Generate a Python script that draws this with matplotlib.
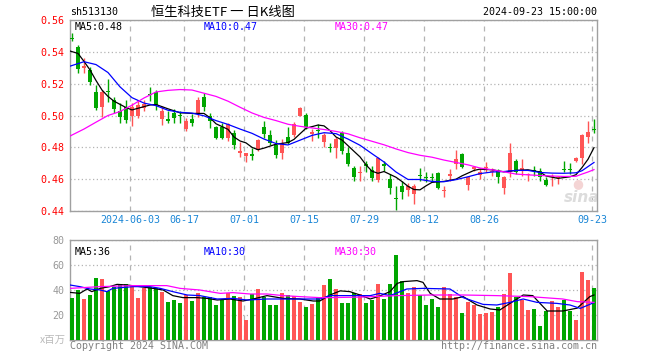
import numpy as np
import matplotlib
matplotlib.use('Agg')
import matplotlib.pyplot as plt

# ---------------------------------------------------------------------------
# data (88 sessions, 2024-05-20 .. 2024-09-23)
# ---------------------------------------------------------------------------
opens = [0.5485, 0.5430, 0.5300, 0.5286, 0.5150, 0.5052, 0.5155, 0.5100, 0.5030, 0.5055,
         0.4997, 0.4995, 0.5045, 0.5132, 0.5145, 0.4975, 0.4980, 0.5013, 0.5003, 0.4913,
         0.4975, 0.5017, 0.5117, 0.4996, 0.4925, 0.4925, 0.4861, 0.4892, 0.4765, 0.4745,
         0.4753, 0.4784, 0.4925, 0.4876, 0.4813, 0.4763, 0.4863, 0.4876, 0.5000, 0.5000,
         0.4882, 0.4910, 0.4834, 0.4801, 0.4795, 0.4892, 0.4767, 0.4673, 0.4638, 0.4695,
         0.4659, 0.4597, 0.4698, 0.4600, 0.4478, 0.4555, 0.4534, 0.4507, 0.4625, 0.4615,
         0.4612, 0.4638, 0.4525, 0.4617, 0.4698, 0.4756, 0.4563, 0.4667, 0.4627, 0.4669,
         0.4646, 0.4652, 0.4542, 0.4642, 0.4711, 0.4659, 0.4624, 0.4655, 0.4653, 0.4597,
         0.4611, 0.4609, 0.4659, 0.4661, 0.4715, 0.4736, 0.4867, 0.4912]
highs = [0.5520, 0.5443, 0.5363, 0.5307, 0.5192, 0.5160, 0.5227, 0.5114, 0.5077, 0.5100,
         0.5077, 0.5098, 0.5100, 0.5180, 0.5160, 0.5058, 0.5027, 0.5038, 0.5027, 0.4986,
         0.5007, 0.5117, 0.5142, 0.5017, 0.4934, 0.4955, 0.4955, 0.4909, 0.4836, 0.4765,
         0.4798, 0.4855, 0.4965, 0.4909, 0.4846, 0.4855, 0.4925, 0.4959, 0.5052, 0.5017,
         0.4913, 0.4944, 0.4892, 0.4830, 0.4867, 0.4902, 0.4804, 0.4684, 0.4680, 0.4715,
         0.4684, 0.4740, 0.4715, 0.4632, 0.4559, 0.4590, 0.4576, 0.4569, 0.4673, 0.4642,
         0.4640, 0.4646, 0.4555, 0.4663, 0.4783, 0.4763, 0.4621, 0.4684, 0.4673, 0.4708,
         0.4673, 0.4667, 0.4621, 0.4825, 0.4725, 0.4725, 0.4638, 0.4684, 0.4673, 0.4611,
         0.4632, 0.4621, 0.4715, 0.4700, 0.4742, 0.4881, 0.4965, 0.4979]
lows = [0.5470, 0.5265, 0.5265, 0.5192, 0.5035, 0.4993, 0.5087, 0.5014, 0.4951, 0.4950,
        0.4934, 0.4983, 0.5030, 0.5090, 0.5035, 0.4938, 0.4950, 0.4950, 0.4950, 0.4903,
        0.4934, 0.4992, 0.5027, 0.4923, 0.4850, 0.4850, 0.4840, 0.4792, 0.4742, 0.4705,
        0.4722, 0.4778, 0.4861, 0.4813, 0.4736, 0.4726, 0.4820, 0.4867, 0.4998, 0.4913,
        0.4840, 0.4861, 0.4799, 0.4772, 0.4736, 0.4757, 0.4680, 0.4590, 0.4590, 0.4642,
        0.4590, 0.4580, 0.4653, 0.4507, 0.4407, 0.4476, 0.4497, 0.4445, 0.4590, 0.4580,
        0.4580, 0.4538, 0.4486, 0.4590, 0.4663, 0.4673, 0.4532, 0.4652, 0.4600, 0.4642,
        0.4621, 0.4579, 0.4507, 0.4611, 0.4632, 0.4617, 0.4590, 0.4617, 0.4590, 0.4559,
        0.4555, 0.4570, 0.4642, 0.4632, 0.4705, 0.4694, 0.4829, 0.4892]
closes = [0.5480, 0.5290, 0.5310, 0.5213, 0.5045, 0.5150, 0.5148, 0.5040, 0.4990, 0.4972,
          0.5052, 0.5066, 0.5070, 0.5128, 0.5065, 0.5027, 0.4963, 0.4982, 0.4997, 0.4965,
          0.4950, 0.5096, 0.5054, 0.4965, 0.4861, 0.4858, 0.4944, 0.4815, 0.4775, 0.4762,
          0.4748, 0.4846, 0.4882, 0.4830, 0.4751, 0.4830, 0.4830, 0.4944, 0.5050, 0.4930,
          0.4896, 0.4905, 0.4876, 0.4797, 0.4855, 0.4778, 0.4694, 0.4611, 0.4646, 0.4685,
          0.4607, 0.4730, 0.4685, 0.4542, 0.4475, 0.4517, 0.4559, 0.4555, 0.4618, 0.4608,
          0.4608, 0.4544, 0.4529, 0.4632, 0.4725, 0.4679, 0.4611, 0.4673, 0.4646, 0.4677,
          0.4652, 0.4615, 0.4611, 0.4763, 0.4646, 0.4669, 0.4628, 0.4650, 0.4611, 0.4563,
          0.4621, 0.4613, 0.4655, 0.4657, 0.4730, 0.4875, 0.4896, 0.4908]
volume = [33.9, 40.0, 32.8, 36.0, 49.9, 48.8, 39.2, 42.7, 44.5, 44.5,
          44.0, 33.9, 41.3, 42.7, 41.9, 38.7, 30.7, 32.0, 29.9, 36.0,
          31.2, 37.3, 34.7, 34.7, 28.0, 32.0, 37.3, 35.5, 34.7, 16.0,
          36.5, 40.8, 34.7, 28.0, 28.0, 37.6, 36.0, 35.2, 30.7, 26.1,
          28.8, 34.7, 44.0, 48.8, 40.8, 29.6, 29.6, 37.3, 36.5, 29.6,
          32.0, 44.8, 32.8, 44.8, 68.0, 47.2, 37.6, 42.4, 36.3, 28.0,
          32.8, 26.4, 42.4, 36.5, 34.1, 21.6, 30.4, 28.0, 20.8, 21.6,
          22.4, 26.4, 36.8, 53.6, 34.7, 32.0, 24.0, 24.8, 11.5, 23.2,
          31.2, 26.4, 32.0, 23.2, 16.0, 54.4, 48.0, 41.9]

# moving-average lines (session index, value)
ma5_i = [-0.33, 1, 2, 3, 4, 5, 6, 7, 9, 10, 13, 14, 16, 18, 20, 22, 23, 24, 26, 27,
         28, 29, 30, 31, 32, 34, 36, 37, 38, 39, 41, 42, 43, 44, 45, 47, 48, 49, 50, 51,
         52, 54, 55, 56, 57, 58, 59, 60, 62, 64, 65, 66, 67, 68, 70, 72, 74, 76, 78, 79,
         81, 83, 84, 85, 86, 87]
ma5_v = [0.5405, 0.5390, 0.5340, 0.5286, 0.5220, 0.5160, 0.5120, 0.5090, 0.5050, 0.5035,
         0.5066, 0.5069, 0.5042, 0.5017, 0.5013, 0.5013, 0.4986, 0.4948, 0.4913, 0.4865,
         0.4840, 0.4828, 0.4800, 0.4785, 0.4795, 0.4820, 0.4830, 0.4850, 0.4885, 0.4920,
         0.4940, 0.4935, 0.4905, 0.4865, 0.4846, 0.4775, 0.4740, 0.4690, 0.4650, 0.4637,
         0.4648, 0.4612, 0.4585, 0.4555, 0.4535, 0.4533, 0.4558, 0.4580, 0.4586, 0.4600,
         0.4621, 0.4638, 0.4655, 0.4663, 0.4659, 0.4646, 0.4655, 0.4659, 0.4645, 0.4620,
         0.4605, 0.4615, 0.4628, 0.4673, 0.4725, 0.4798]
ma10_i = [-0.33, 2, 4, 6, 8, 10, 12, 14, 16, 18, 20, 22, 24, 26, 28, 30, 32, 34, 36, 38,
          40, 42, 44, 46, 48, 50, 52, 54, 56, 58, 60, 62, 64, 66, 68, 70, 72, 74, 76, 78,
          80, 82, 84, 85, 86, 87]
ma10_v = [0.5310, 0.5338, 0.5320, 0.5270, 0.5180, 0.5112, 0.5078, 0.5062, 0.5033, 0.5020,
          0.5015, 0.4998, 0.4968, 0.4944, 0.4915, 0.4888, 0.4852, 0.4824, 0.4815, 0.4845,
          0.4875, 0.4892, 0.4886, 0.4852, 0.4813, 0.4760, 0.4708, 0.4645, 0.4598, 0.4598,
          0.4586, 0.4584, 0.4597, 0.4615, 0.4635, 0.4645, 0.4648, 0.4655, 0.4655, 0.4642,
          0.4638, 0.4637, 0.4640, 0.4653, 0.4679, 0.4705]
ma30_i = [-0.33, 2, 4, 6, 8, 10, 12, 14, 16, 18, 20, 22, 24, 26, 28, 30, 32, 34, 36, 38,
          40, 42, 44, 46, 48, 50, 52, 54, 56, 58, 60, 62, 64, 66, 68, 70, 72, 74, 76, 78,
          80, 82, 84, 85, 86, 87]
ma30_v = [0.4871, 0.4915, 0.4958, 0.5000, 0.5025, 0.5065, 0.5110, 0.5148, 0.5158, 0.5163,
          0.5160, 0.5140, 0.5120, 0.5090, 0.5052, 0.5016, 0.4988, 0.4968, 0.4945, 0.4932,
          0.4922, 0.4912, 0.4900, 0.4885, 0.4860, 0.4838, 0.4816, 0.4790, 0.4767, 0.4750,
          0.4738, 0.4720, 0.4705, 0.4690, 0.4670, 0.4659, 0.4646, 0.4632, 0.4627, 0.4623,
          0.4620, 0.4617, 0.4618, 0.4632, 0.4645, 0.4660]

vma5_i = [-0.33, 1.3, 2.5, 3.3, 4.7, 6.3, 7.5, 9.2, 11.3, 13.5, 15.2, 16.8, 18.5, 20.8, 22.5,
          24.2, 26.3, 28.5, 30.2, 32.5, 35.2, 38, 40.2, 41.3, 43, 44.7, 46.3, 48, 49.7, 51.3,
          53, 54.2, 55.2, 57.5, 58.5, 59.7, 61.3, 63.5, 65.2, 67.5, 69.7, 71.3, 73, 75.2, 76.8,
          78, 79.2, 81.8, 84.2, 86.3, 87]
vma5_v = [38.1, 37.3, 40.8, 38.7, 41.3, 42.7, 44.5, 44.0, 42.7, 41.3, 40.0, 35.5, 33.9, 33.9, 33.3,
          32.0, 32.8, 31.2, 32.8, 35.5, 33.3, 32.8, 31.2, 31.2, 36.0, 39.3, 38.7, 36.0, 32.8, 35.2,
          38.7, 45.3, 46.7, 47.5, 46.1, 37.3, 32.8, 32.8, 34.7, 28.0, 24.8, 24.0, 29.3, 36.0, 35.5,
          29.3, 23.2, 23.2, 25.5, 34.7, 36.0]
vma10_i = [-0.33, 1.3, 3, 4.7, 5.8, 6.8, 10.2, 13, 14.7, 16.8, 19.2, 21.3, 24.2, 26.8, 29.2,
           32.5, 38, 41.3, 43, 46.3, 49.7, 51.3, 53, 55.8, 58.5, 63, 65.2, 68.5, 70.8, 73,
           75.2, 77.5, 80.8, 83, 84.7, 86.3, 87]
vma10_v = [44.0, 42.7, 40.8, 40.0, 38.7, 41.3, 42.7, 42.7, 41.3, 38.7, 36.0, 35.5, 32.8, 33.3, 32.0,
           32.8, 32.8, 32.8, 35.5, 35.5, 35.5, 37.3, 35.5, 40.8, 41.3, 40.8, 33.9, 28.5, 28.0, 30.1,
           32.8, 30.1, 29.3, 28.0, 25.3, 28.5, 30.0]
vma30_i = [-0.33, 4.7, 10.2, 15.8, 18, 21.3, 24.7, 26.8, 29.7, 32.5, 35.2, 38, 41.3, 43, 48.5,
           54.2, 59.7, 65.2, 70.8, 76.3, 81.8, 84.2, 87]
vma30_v = [41.3, 42.7, 43.5, 43.5, 41.3, 40.0, 37.3, 37.9, 36.8, 36.8, 35.5, 34.7, 33.9, 33.9, 34.4,
           35.5, 36.0, 36.0, 35.5, 34.7, 32.8, 30.7, 30.1]

date_idx = [10, 19, 29, 39, 49, 59, 69, 87]
date_lbl = ['2024-06-03', '06-17', '07-01', '07-15', '07-29', '08-12', '08-26', '09-23']
price_ticks = [0.44, 0.46, 0.48, 0.50, 0.52, 0.54, 0.56]
vol_ticks = [20, 40, 60, 80]

RED = '#ff5555'
GREEN = '#00a600'
BORDER = '#a0a0a0'
MONO = 'DejaVu Sans Mono'
W, H = 660, 360


def px(x, y):
    return x / W, 1 - y / H


o = np.array(opens)
c = np.array(closes)
idx = np.arange(len(opens))
up = c >= o
cols = np.where(up, RED, GREEN)
grid_x = np.array(date_idx) - 0.3

fig = plt.figure(figsize=(6.6, 3.6), dpi=100)
ax = fig.add_axes([70 / W, 1 - 211 / H, 527 / W, 191 / H])
axv = fig.add_axes([70 / W, 1 - 340 / H, 527 / W, 100 / H])

# ---------------------------------------------------------------------------
# price panel
# ---------------------------------------------------------------------------
for a in (ax, axv):
    a.set_xlim(-0.333, 87.5)
    for s in a.spines.values():
        s.set_color(BORDER)
        s.set_linewidth(1.0)
    a.set_xticks(grid_x)
    a.xaxis.grid(True, color='#b4b4b4', linestyle=(0, (4, 4)), linewidth=0.9)
    a.yaxis.grid(True, color='#b4b4b4', linestyle=(0, (1, 2)), linewidth=0.9)
    a.set_axisbelow(True)
    a.tick_params(length=0)

ax.vlines(idx, lows, highs, colors=cols, linewidth=1.0, zorder=2)
body = np.maximum(np.abs(c - o), 0.0007)
ax.bar(idx, body, bottom=np.minimum(o, c), width=0.82, color=cols, linewidth=0, zorder=3)
ax.plot(ma5_i, ma5_v, color='black', lw=0.9, zorder=4)
ax.plot(ma10_i, ma10_v, color='#0000ff', lw=0.9, zorder=4)
ax.plot(ma30_i, ma30_v, color='#ff00ff', lw=0.9, zorder=4)
ax.set_ylim(0.44, 0.56)
ax.set_yticks(price_ticks)
ax.set_yticklabels(['%.2f' % t for t in price_ticks], fontfamily=MONO, fontsize=7.2, color='#ff0000')
ax.set_xticklabels(date_lbl, fontfamily=MONO, fontsize=7.2, color='#1a86d6')
ax.tick_params(axis='y', pad=4)
ax.tick_params(axis='x', pad=3)

ax.text(5 / 527, 1 - 7 / 191, 'MA5:0.48', transform=ax.transAxes, fontfamily=MONO,
        fontsize=7.2, color='black', va='center', ha='left')
ax.text(134 / 527, 1 - 7 / 191, 'MA10:0.47', transform=ax.transAxes, fontfamily=MONO,
        fontsize=7.2, color='#0000ff', va='center', ha='left')
ax.text(265 / 527, 1 - 7 / 191, 'MA30:0.47', transform=ax.transAxes, fontfamily=MONO,
        fontsize=7.2, color='#ff00ff', va='center', ha='left')
ax.text(512 / 527, 14 / 191, 'sina', transform=ax.transAxes, fontsize=11, fontweight='bold',
        fontstyle='italic', color='#dcdcdc', ha='center', va='center', zorder=1)
ax.text(508 / 527, 27 / 191, '\u25cf', transform=ax.transAxes, fontsize=9,
        color='#f4d4d4', ha='center', va='center', zorder=1)

# ---------------------------------------------------------------------------
# volume panel
# ---------------------------------------------------------------------------
axv.bar(idx, volume, width=0.82, color=cols, linewidth=0, zorder=3)
axv.plot(vma5_i, vma5_v, color='black', lw=0.9, zorder=4)
axv.plot(vma10_i, vma10_v, color='#0000ff', lw=0.9, zorder=4)
axv.plot(vma30_i, vma30_v, color='#ff00ff', lw=0.9, zorder=4)
axv.set_ylim(0, 80)
axv.set_yticks(vol_ticks)
axv.set_yticklabels([str(t) for t in vol_ticks], fontfamily=MONO, fontsize=7.2, color='#999999')
axv.tick_params(axis='y', pad=4)
axv.set_xticklabels([])
axv.text(5 / 527, 1 - 12 / 100, 'MA5:36', transform=axv.transAxes, fontfamily=MONO,
         fontsize=7.2, color='black', va='center', ha='left')
axv.text(134 / 527, 1 - 12 / 100, 'MA10:30', transform=axv.transAxes, fontfamily=MONO,
         fontsize=7.2, color='#0000ff', va='center', ha='left')
axv.text(265 / 527, 1 - 12 / 100, 'MA30:30', transform=axv.transAxes, fontfamily=MONO,
         fontsize=7.2, color='#ff00ff', va='center', ha='left')

# ---------------------------------------------------------------------------
# header / footer
# ---------------------------------------------------------------------------
fig.text(*px(70, 12), 'sh513130', fontfamily=MONO, fontsize=7.2, color='black',
         ha='left', va='center')
fig.text(*px(223, 12), '恒生科技ETF 一 日K线图', family=['Noto Sans CJK SC', 'DejaVu Sans'],
         fontsize=9.5, color='black', ha='center', va='center')
fig.text(*px(597, 12), '2024-09-23 15:00:00', fontfamily=MONO, fontsize=7.2, color='black',
         ha='right', va='center')
fig.text(*px(66, 340), 'x百万', family=['Noto Sans CJK SC', 'DejaVu Sans'], fontsize=7.5,
         color='#bbbbbb', ha='right', va='center')
fig.text(*px(70, 346), 'Copyright 2024 SINA.COM', fontfamily=MONO, fontsize=7.2,
         color='#808080', ha='left', va='center')
fig.text(*px(597, 346), 'http://finance.sina.com.cn', fontfamily=MONO, fontsize=7.2,
         color='#808080', ha='right', va='center')

fig.savefig('out.png', dpi=100)
print('Done.')
